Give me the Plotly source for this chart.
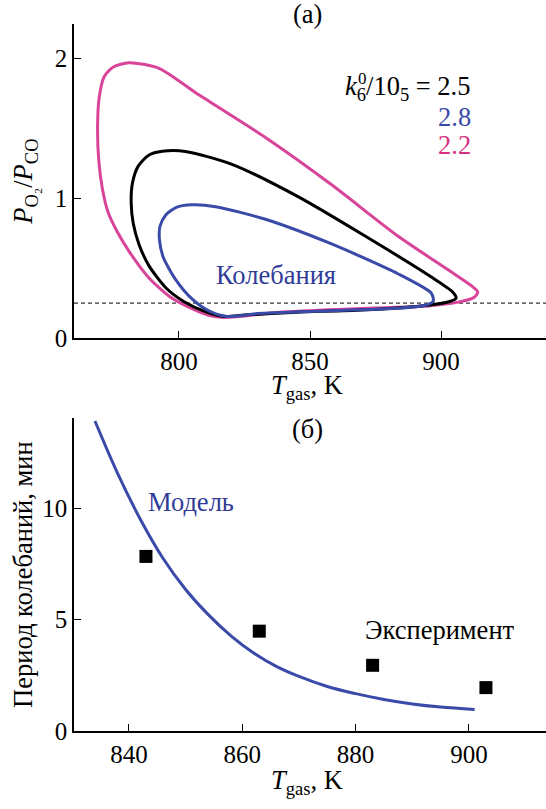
import plotly.graph_objects as go

# ---------- data: panel (a) limit cycles ----------
T_22 = [781, 775, 771.5, 769.6, 769.0, 769.4, 770.8, 773, 776.5, 781, 788.6, 797, 805, 811, 816, 822,
        835, 855, 875, 895, 906, 912.5, 914, 911.5, 902.5, 883.5, 858, 833, 807.6, 792.4, 781]
R_22 = [1.97, 1.94, 1.87, 1.72, 1.52, 1.28, 1.07, 0.9, 0.76, 0.62, 0.43, 0.29, 0.21, 0.165, 0.148, 0.152,
        0.18, 0.20, 0.215, 0.23, 0.255, 0.29, 0.33, 0.375, 0.49, 0.73, 1.1, 1.435, 1.74, 1.93, 1.97]

T_25 = [793.7, 788.6, 784.5, 782.3, 781.8, 782.6, 784.8, 788.5, 795, 802, 810, 817.5, 825, 845, 870, 895,
        903, 905.7, 904.4, 896, 871, 845.6, 820, 802.5, 793.7]
R_25 = [1.336, 1.31, 1.23, 1.11, 0.97, 0.82, 0.67, 0.52, 0.36, 0.26, 0.19, 0.155, 0.165, 0.185, 0.2,
        0.235, 0.26, 0.285, 0.33, 0.44, 0.73, 1.01, 1.245, 1.335, 1.336]

T_28 = [805, 799, 795, 792.8, 792.6, 794, 798.7, 805, 811.4, 818.4, 830, 858, 885, 894, 897,
        896.3, 883.5, 858, 833, 814, 805]
R_28 = [0.953, 0.935, 0.88, 0.8, 0.7, 0.58, 0.42, 0.28, 0.195, 0.155, 0.175, 0.195, 0.215, 0.235,
        0.265, 0.32, 0.46, 0.675, 0.85, 0.94, 0.953]

R_threshold = 0.25
T_axis_a = [760, 940]

# ---------- data: panel (б) oscillation period ----------
T_model = [834, 838, 842, 846, 850, 854, 858, 862, 866, 870, 875, 880, 885, 890, 895, 901]
P_model = [13.9, 11.55, 9.5, 7.75, 6.35, 5.22, 4.27, 3.5, 2.9, 2.45, 2.0, 1.68, 1.42, 1.22, 1.08, 0.97]

T_exp = [843, 863, 883, 903]
P_exp = [7.83, 4.48, 2.95, 1.95]

# ---------- styling ----------
W, H = 546, 809
MAGENTA = "#d9449b"
BLUE = "#3a4aa8"
TEXTBLUE = "#2f3c98"
FONT = "Liberation Serif, Times New Roman, DejaVu Serif, serif"
TXT = 26.5

def px_x(p):
    return p / W

def px_y(p):
    return 1 - p / H

fig = go.Figure()

fig.add_trace(go.Scatter(x=T_axis_a, y=[R_threshold, R_threshold], mode="lines",
                         line=dict(color="black", width=1, dash="4px,3px"),
                         xaxis="x", yaxis="y", showlegend=False))
for T, R, c in [(T_22, R_22, MAGENTA), (T_25, R_25, "black"), (T_28, R_28, BLUE)]:
    fig.add_trace(go.Scatter(x=T, y=R, mode="lines",
                             line=dict(color=c, width=3, shape="spline", smoothing=0.7),
                             xaxis="x", yaxis="y", showlegend=False))

fig.add_trace(go.Scatter(x=T_model, y=P_model, mode="lines",
                         line=dict(color=BLUE, width=3, shape="spline", smoothing=1.0),
                         xaxis="x2", yaxis="y2", showlegend=False))
fig.add_trace(go.Scatter(x=T_exp, y=P_exp, mode="markers",
                         marker=dict(symbol="square", size=13, color="black"),
                         xaxis="x2", yaxis="y2", showlegend=False))

axis_common = dict(showline=True, linecolor="black", linewidth=1.5, ticks="inside",
                   ticklen=7, tickwidth=1.2, tickcolor="black", showgrid=False,
                   zeroline=False, tickfont=dict(family=FONT, size=25, color="black"))

fig.update_layout(
    width=W, height=H, margin=dict(l=0, r=0, t=0, b=0),
    paper_bgcolor="white", plot_bgcolor="white",
    font=dict(family=FONT, color="black"),
    xaxis=dict(domain=[px_x(74), 1], range=[760, 940], anchor="y",
               tickvals=[800, 850, 900], **axis_common),
    yaxis=dict(domain=[px_y(344), px_y(24)], range=[0, 2.25], anchor="x",
               tickvals=[0, 1, 2], **axis_common),
    xaxis2=dict(domain=[px_x(74), 1], range=[830.3, 913.6], anchor="y2",
                tickvals=[840, 860, 880, 900], **axis_common),
    yaxis2=dict(domain=[px_y(744), px_y(425)], range=[0, 14.05], anchor="x2",
                tickvals=[0, 5, 10], **axis_common),
)

def ann(text, x, y, size=TXT, color="black", xanchor="center", angle=0):
    fig.add_annotation(text=text, x=px_x(x), y=px_y(y), xref="paper", yref="paper",
                       showarrow=False, xanchor=xanchor, yanchor="middle", textangle=angle,
                       font=dict(family=FONT, size=size, color=color))

ann("(a)", 307, 14)
ann("(б)", 307, 437)
ann("<i>T</i><sub>gas</sub>, K", 307, 394)
ann("<i>T</i><sub>gas</sub>, K", 307, 796)
ann("<i>P</i><sub>O₂</sub>/<i>P</i><sub>CO</sub>", 25, 185, angle=-90)
ann("Период колебаний, мин", 23, 585, angle=-90)
ann("Колебания", 276, 280, color=TEXTBLUE)
ann("Модель", 191, 511, color=TEXTBLUE)
ann("Эксперимент", 440, 641)
ann("<i>k</i><sub>6</sub>/10<sub>5</sub> = 2.5", 473, 90, xanchor="right")
ann("0", 362, 80, size=17)
ann("2.8", 473, 119, color=BLUE, xanchor="right")
ann("2.2", 473, 148, color="#d6307f", xanchor="right")

fig.write_html("out.html")
